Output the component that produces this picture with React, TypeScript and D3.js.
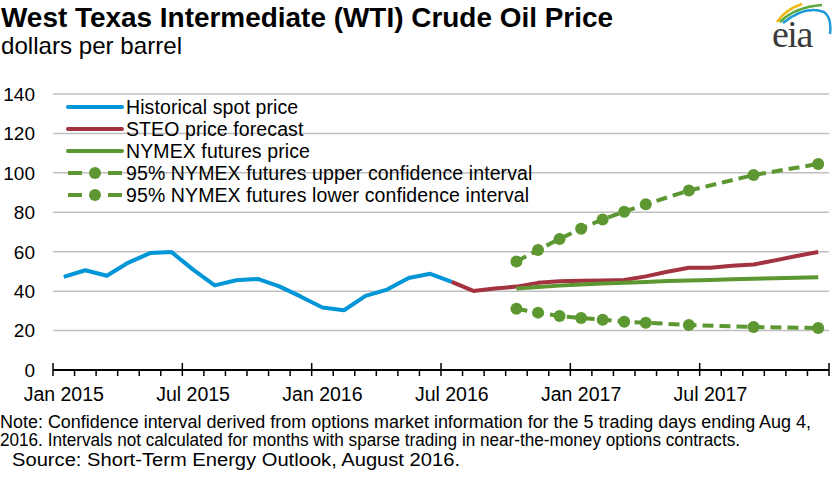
import React, { useEffect, useRef } from 'react';
import * as d3 from 'd3';

// monthly categories, Jan 2015 - Dec 2017
const MONTHS = d3.timeMonth.range(new Date(2015, 0, 1), new Date(2018, 0, 1));
const TICK_LABELS = ['Jan 2015', 'Jul 2015', 'Jan 2016', 'Jul 2016', 'Jan 2017', 'Jul 2017'];
const Y_TICKS = [0, 20, 40, 60, 80, 100, 120, 140];

// Jan 2015 - Jul 2016
const SPOT = [47.2, 50.6, 47.8, 54.5, 59.3, 59.8, 50.9, 42.9, 45.5, 46.2, 42.4, 37.2, 31.7, 30.3, 37.6, 40.8, 46.7, 48.8, 44.7];
// Jul 2016 - Dec 2017
const STEO = [44.7, 40.1, 41.3, 42.3, 44.2, 45.0, 45.3, 45.4, 45.7, 47.5, 49.8, 51.9, 51.9, 52.9, 53.5, 55.6, 57.8, 59.9];
// Oct 2016 - Dec 2017
const NYMEX = [41.4, 42.1, 42.8, 43.4, 43.9, 44.3, 44.7, 45.1, 45.4, 45.7, 46.0, 46.3, 46.6, 46.8, 47.0];
const UPPER = [55.0, 60.9, 66.5, 71.7, 76.4, 80.3, 84.1, null, 91.0, null, null, 98.9, null, null, 104.5];
const LOWER = [31.1, 29.1, 27.4, 26.4, 25.5, 24.5, 24.0, null, 22.8, null, null, 21.8, null, null, 21.3];

const LEGEND = [
  'Historical spot price',
  'STEO price forecast',
  'NYMEX futures price',
  '95% NYMEX futures upper confidence interval',
  '95% NYMEX futures lower confidence interval',
];

const BLUE = '#0096d7';
const RED = '#a33340';
const GREEN = '#5d9732';

const SERIES = [
  { values: SPOT, start: 0, color: BLUE, ci: false },
  { values: STEO, start: 18, color: RED, ci: false },
  { values: NYMEX, start: 21, color: GREEN, ci: false },
  { values: UPPER, start: 21, color: GREEN, ci: true },
  { values: LOWER, start: 21, color: GREEN, ci: true },
];

const FONT = '"Liberation Sans", Arial, sans-serif';

const App = () => {
  const svgRef = useRef<SVGSVGElement>(null);
  const width = 833;
  const height = 483;
  const margin = { top: 94, right: 4, bottom: 113, left: 53 };

  useEffect(() => {
    const svg = d3.select(svgRef.current);
    svg.selectAll('*').remove();

    const x = d3.scaleBand<number>()
      .domain(d3.range(MONTHS.length))
      .range([margin.left, width - margin.right]);
    const cx = (i: number) => (x(i) as number) + x.bandwidth() / 2;
    const y = d3.scaleLinear().domain([0, 140]).range([height - margin.bottom, margin.top]);

    // titles
    svg.append('text')
      .attr('x', 1).attr('y', 27)
      .attr('textLength', 612).attr('lengthAdjust', 'spacingAndGlyphs')
      .style('font', `bold 28px ${FONT}`)
      .text('West Texas Intermediate (WTI) Crude Oil Price');
    svg.append('text')
      .attr('x', 1).attr('y', 54)
      .attr('textLength', 181).attr('lengthAdjust', 'spacingAndGlyphs')
      .style('font', `24px ${FONT}`)
      .text('dollars per barrel');

    // eia logo
    const logo = svg.append('g');
    logo.append('path').attr('d', 'M777,22 Q786,9 802,4').attr('fill', 'none').attr('stroke', '#f2b713').attr('stroke-width', 2.5);
    logo.append('path').attr('d', 'M780,22 Q795,7 822,5').attr('fill', 'none').attr('stroke', '#5aab3c').attr('stroke-width', 2.5);
    logo.append('path').attr('d', 'M783,23 Q805,5 824,12 Q832,18 830,34').attr('fill', 'none').attr('stroke', '#1e9ad6').attr('stroke-width', 2.5);
    logo.append('text')
      .attr('x', 772).attr('y', 47)
      .style('font', '38px "Liberation Serif", "DejaVu Serif", serif')
      .style('letter-spacing', '-1.5px')
      .attr('fill', '#3a3a3a')
      .text('eia');

    // grid + y labels
    svg.append('g').selectAll('line')
      .data(Y_TICKS.filter(d => d > 0))
      .join('line')
      .attr('x1', margin.left).attr('x2', width - margin.right)
      .attr('y1', d => y(d)).attr('y2', d => y(d))
      .attr('stroke', '#bfbfbf').attr('stroke-width', 1.5);
    svg.append('g').selectAll('text')
      .data(Y_TICKS)
      .join('text')
      .attr('x', 35).attr('y', d => y(d)).attr('dy', '0.36em')
      .attr('text-anchor', 'end')
      .style('font', `19px ${FONT}`)
      .text(d => d);

    // x axis
    const y0 = y(0);
    const axis = svg.append('g');
    axis.append('line')
      .attr('x1', margin.left).attr('x2', width - margin.right)
      .attr('y1', y0).attr('y2', y0)
      .attr('stroke', '#000').attr('stroke-width', 2);
    axis.selectAll('.tick')
      .data(d3.range(MONTHS.length + 1))
      .join('line')
      .attr('x1', i => margin.left + i * x.bandwidth())
      .attr('x2', i => margin.left + i * x.bandwidth())
      .attr('y1', i => (i % 6 === 0 ? y0 - 7 : y0))
      .attr('y2', y0 + 6)
      .attr('stroke', '#000').attr('stroke-width', 1.5);
    axis.selectAll('.lbl')
      .data(TICK_LABELS)
      .join('text')
      .attr('x', (d, i) => cx(i * 6))
      .attr('y', 401)
      .attr('text-anchor', 'middle')
      .style('font', `19.5px ${FONT}`)
      .text(d => d);

    // series
    const line = d3.line<[number, number]>().x(d => cx(d[0])).y(d => y(d[1]));
    SERIES.forEach(s => {
      const pts = s.values
        .map((v, i) => [s.start + i, v] as [number, number | null])
        .filter(d => d[1] != null) as [number, number][];
      svg.append('path')
        .datum(pts)
        .attr('d', line)
        .attr('fill', 'none')
        .attr('stroke', s.color)
        .attr('stroke-width', 4)
        .attr('stroke-dasharray', s.ci ? '11,6' : null)
        .attr('stroke-linejoin', 'round');
      if (s.ci) {
        svg.append('g').selectAll('circle')
          .data(pts)
          .join('circle')
          .attr('cx', d => cx(d[0])).attr('cy', d => y(d[1]))
          .attr('r', 6).attr('fill', s.color);
      }
    });

    // legend
    const lg = svg.append('g');
    LEGEND.forEach((label, i) => {
      const s = SERIES[i];
      const ly = 107 + i * 22;
      if (s.ci) {
        lg.append('line').attr('x1', 68).attr('x2', 82).attr('y1', ly).attr('y2', ly)
          .attr('stroke', s.color).attr('stroke-width', 4);
        lg.append('line').attr('x1', 108).attr('x2', 122).attr('y1', ly).attr('y2', ly)
          .attr('stroke', s.color).attr('stroke-width', 4);
        lg.append('circle').attr('cx', 95).attr('cy', ly).attr('r', 6).attr('fill', s.color);
      } else {
        lg.append('line').attr('x1', 68).attr('x2', 122).attr('y1', ly).attr('y2', ly)
          .attr('stroke', s.color).attr('stroke-width', 4).attr('stroke-linecap', 'round');
      }
      lg.append('text')
        .attr('x', 126).attr('y', ly).attr('dy', '0.36em')
        .style('font', `19.5px ${FONT}`)
        .style('letter-spacing', '0.1px')
        .text(label);
    });

    // notes
    svg.append('text')
      .attr('x', 0).attr('y', 428)
      .attr('textLength', 811).attr('lengthAdjust', 'spacingAndGlyphs')
      .style('font', `17.5px ${FONT}`)
      .text('Note: Confidence interval derived from options market information for the 5 trading days ending Aug 4,');
    svg.append('text')
      .attr('x', 0).attr('y', 446)
      .attr('textLength', 740).attr('lengthAdjust', 'spacingAndGlyphs')
      .style('font', `17.5px ${FONT}`)
      .text('2016. Intervals not calculated for months with sparse trading in near-the-money options contracts.');
    svg.append('text')
      .attr('x', 12).attr('y', 466)
      .attr('textLength', 448).attr('lengthAdjust', 'spacingAndGlyphs')
      .style('font', `18px ${FONT}`)
      .text('Source: Short-Term Energy Outlook, August 2016.');
  }, []);

  return (
    <svg
      ref={svgRef}
      width={width}
      height={height}
      style={{ position: 'absolute', left: 0, top: 0, background: '#fff' }}
    />
  );
};

export default App;
